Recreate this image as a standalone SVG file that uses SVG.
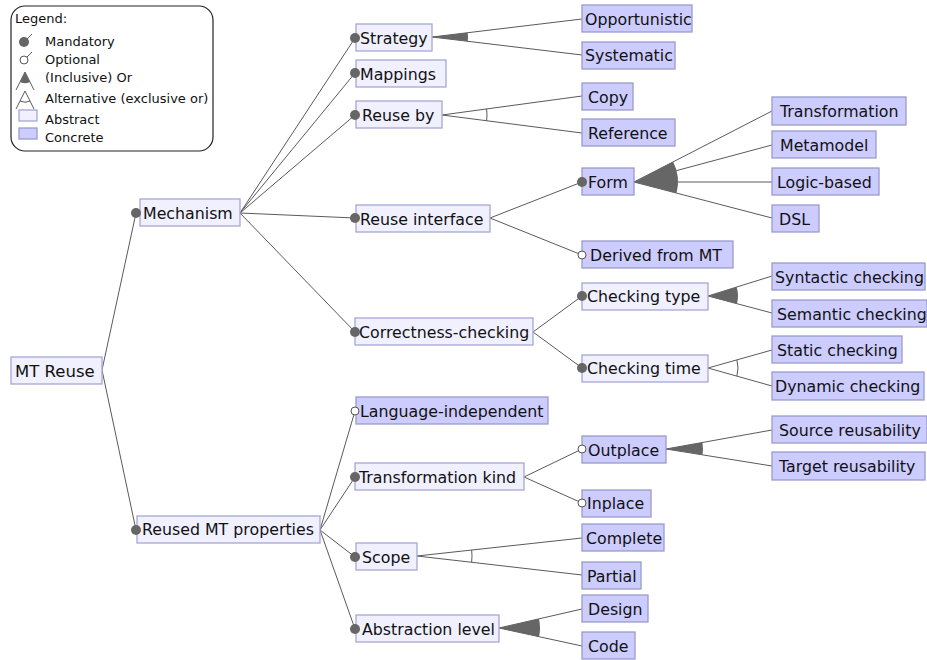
<svg xmlns="http://www.w3.org/2000/svg" width="927" height="660" viewBox="0 0 927 660">
<style>
text{font-family:"DejaVu Sans",Verdana,sans-serif;font-size:15.8px;fill:#111}
.lg{font-size:13px}
.abs{fill:#f0f0ff;stroke:#a6a6d6;stroke-width:1.3}
.con{fill:#ccccff;stroke:#9a9acc;stroke-width:1.3}
.e{stroke:#5a5a5a;stroke-width:1;fill:none}
.m{fill:#666;stroke:none}
.o{fill:#fff;stroke:#555;stroke-width:1}
.w{fill:#666;stroke:none}
.arc{fill:none;stroke:#5a5a5a;stroke-width:1}
</style>
<rect width="927" height="660" fill="#fff"/>
<g id="legend">
<rect x="11" y="6" width="202" height="145" rx="14" fill="#fff" stroke="#222" stroke-width="1.2"/>
<text class="lg" x="15" y="23">Legend:</text>
<line class="e" x1="24" y1="42" x2="32" y2="34"/><circle class="m" cx="24" cy="42" r="5"/>
<text class="lg" x="45" y="46">Mandatory</text>
<line class="e" x1="24" y1="60" x2="32" y2="52"/><circle class="o" cx="24" cy="60" r="4"/>
<text class="lg" x="45" y="64">Optional</text>
<path class="e" d="M16 90 L25 72 L34 90"/><path class="w" d="M25 72 L20 82 A11 11 0 0 0 30 82 Z"/>
<text class="lg" x="45" y="82">(Inclusive) Or</text>
<path class="e" d="M16 109 L25 91 L34 109"/><path class="arc" d="M20 101 A11 11 0 0 0 30 101"/>
<text class="lg" x="45" y="103">Alternative (exclusive or)</text>
<rect class="abs" x="19" y="110" width="18" height="11"/>
<text class="lg" x="45" y="124">Abstract</text>
<rect class="con" x="19" y="128" width="18" height="11"/>
<text class="lg" x="45" y="142">Concrete</text>
</g>
<g id="connectors">
<line class="e" x1="102" y1="370" x2="136" y2="213"/>
<line class="e" x1="102" y1="370" x2="136" y2="530"/>
<line class="e" x1="240" y1="213" x2="355" y2="38"/>
<line class="e" x1="240" y1="213" x2="355" y2="73"/>
<line class="e" x1="240" y1="213" x2="355" y2="115"/>
<line class="e" x1="240" y1="213" x2="355" y2="218"/>
<line class="e" x1="240" y1="213" x2="355" y2="332"/>
<line class="e" x1="320" y1="530" x2="355" y2="411"/>
<line class="e" x1="320" y1="530" x2="355" y2="477"/>
<line class="e" x1="320" y1="530" x2="355" y2="557"/>
<line class="e" x1="320" y1="530" x2="355" y2="629"/>
<line class="e" x1="490" y1="218" x2="582" y2="182"/>
<line class="e" x1="490" y1="218" x2="582" y2="255"/>
<line class="e" x1="533" y1="332" x2="582" y2="296"/>
<line class="e" x1="533" y1="332" x2="582" y2="368"/>
<line class="e" x1="524" y1="477" x2="582" y2="449"/>
<line class="e" x1="524" y1="477" x2="582" y2="503"/>
<line class="e" x1="432" y1="37" x2="582" y2="19"/>
<line class="e" x1="432" y1="37" x2="582" y2="55"/>
<path class="w" d="M432 37 L467.74 32.71 A36 36 0 0 1 467.74 41.29 Z"/>
<line class="e" x1="442" y1="115" x2="582" y2="96"/>
<line class="e" x1="442" y1="115" x2="582" y2="133"/>
<path class="arc" d="M486.59 108.95 A45 45 0 0 1 486.63 120.74"/>
<line class="e" x1="634" y1="182" x2="772" y2="111"/>
<line class="e" x1="634" y1="182" x2="772" y2="145"/>
<line class="e" x1="634" y1="182" x2="772" y2="182"/>
<line class="e" x1="634" y1="182" x2="772" y2="218"/>
<path class="w" d="M634 182 L673.13 161.87 A44 44 0 0 1 676.57 193.11 Z"/>
<line class="e" x1="708" y1="296" x2="772" y2="276"/>
<line class="e" x1="708" y1="296" x2="772" y2="313"/>
<path class="w" d="M708 296 L736.64 287.05 A30 30 0 0 1 736.99 303.7 Z"/>
<line class="e" x1="708" y1="368" x2="772" y2="350"/>
<line class="e" x1="708" y1="368" x2="772" y2="386"/>
<path class="arc" d="M736.88 359.88 A30 30 0 0 1 736.88 376.12"/>
<line class="e" x1="666" y1="449" x2="772" y2="430"/>
<line class="e" x1="666" y1="449" x2="772" y2="466"/>
<path class="w" d="M666 449 L702.42 442.47 A37 37 0 0 1 702.53 454.86 Z"/>
<line class="e" x1="417" y1="556" x2="582" y2="538"/>
<line class="e" x1="417" y1="556" x2="582" y2="575"/>
<path class="arc" d="M471.68 550.04 A55 55 0 0 1 471.64 562.29"/>
<line class="e" x1="499" y1="628" x2="582" y2="609"/>
<line class="e" x1="499" y1="628" x2="582" y2="646"/>
<path class="w" d="M499 628 L538.97 618.85 A41 41 0 0 1 539.11 636.69 Z"/>
</g>
<g id="n-mtreuse"><rect class="abs" x="11" y="357" width="91" height="27"/><text x="15" y="377" style="font-size:16.5px">MT Reuse</text></g>
<g id="n-mechanism"><rect class="abs" x="140" y="199" width="100" height="27"/><text x="143" y="219">Mechanism</text><circle class="m" cx="136" cy="213" r="5"/></g>
<g id="n-reused"><rect class="abs" x="137" y="516" width="183" height="27"/><text x="142" y="535">Reused MT properties</text><circle class="m" cx="136" cy="530" r="5"/></g>
<g id="n-strategy"><rect class="abs" x="356" y="24" width="76" height="27"/><text x="360" y="44">Strategy</text><circle class="m" cx="355" cy="38" r="5"/></g>
<g id="n-mappings"><rect class="abs" x="356" y="60" width="90" height="27"/><text x="360" y="80">Mappings</text><circle class="m" cx="355" cy="73" r="5"/></g>
<g id="n-reuseby"><rect class="abs" x="356" y="101" width="86" height="27"/><text x="362" y="121">Reuse by</text><circle class="m" cx="355" cy="115" r="5"/></g>
<g id="n-reuseinterface"><rect class="abs" x="356" y="205" width="134" height="27"/><text x="360" y="225">Reuse interface</text><circle class="m" cx="355" cy="218" r="5"/></g>
<g id="n-correctness"><rect class="abs" x="355" y="318" width="178" height="27"/><text x="359" y="338">Correctness-checking</text><circle class="m" cx="355" cy="332" r="5"/></g>
<g id="n-langindep"><rect class="con" x="356" y="397" width="192" height="27"/><text x="360" y="417">Language-independent</text><circle class="o" cx="355" cy="411" r="4"/></g>
<g id="n-transkind"><rect class="abs" x="355" y="463" width="169" height="27"/><text x="359" y="483">Transformation kind</text><circle class="m" cx="355" cy="477" r="5"/></g>
<g id="n-scope"><rect class="abs" x="356" y="543" width="61" height="27"/><text x="362" y="563">Scope</text><circle class="m" cx="355" cy="557" r="5"/></g>
<g id="n-abstraction"><rect class="abs" x="356" y="615" width="143" height="27"/><text x="362" y="635">Abstraction level</text><circle class="m" cx="355" cy="629" r="5"/></g>
<g id="n-opportunistic"><rect class="con" x="582" y="5" width="110" height="27"/><text x="585" y="25">Opportunistic</text></g>
<g id="n-systematic"><rect class="con" x="582" y="42" width="93" height="27"/><text x="585" y="61">Systematic</text></g>
<g id="n-copy"><rect class="con" x="582" y="83" width="51" height="27"/><text x="588" y="103">Copy</text></g>
<g id="n-reference"><rect class="con" x="582" y="119" width="93" height="27"/><text x="588" y="139">Reference</text></g>
<g id="n-form"><rect class="con" x="582" y="168" width="52" height="27"/><text x="588" y="188">Form</text><circle class="m" cx="582" cy="182" r="5"/></g>
<g id="n-derived"><rect class="con" x="582" y="241" width="151" height="27"/><text x="590" y="261">Derived from MT</text><circle class="o" cx="582" cy="255" r="4"/></g>
<g id="n-checktype"><rect class="abs" x="582" y="283" width="126" height="27"/><text x="587" y="302">Checking type</text><circle class="m" cx="582" cy="296" r="5"/></g>
<g id="n-checktime"><rect class="abs" x="582" y="355" width="126" height="27"/><text x="587" y="374">Checking time</text><circle class="m" cx="582" cy="368" r="5"/></g>
<g id="n-outplace"><rect class="con" x="582" y="436" width="84" height="27"/><text x="588" y="456">Outplace</text><circle class="o" cx="582" cy="449" r="4"/></g>
<g id="n-inplace"><rect class="con" x="582" y="490" width="69" height="27"/><text x="587" y="509">Inplace</text><circle class="o" cx="582" cy="503" r="4"/></g>
<g id="n-complete"><rect class="con" x="582" y="524" width="82" height="27"/><text x="586" y="544">Complete</text></g>
<g id="n-partial"><rect class="con" x="582" y="562" width="59" height="27"/><text x="587" y="582">Partial</text></g>
<g id="n-design"><rect class="con" x="582" y="595" width="66" height="27"/><text x="588" y="615">Design</text></g>
<g id="n-code"><rect class="con" x="582" y="632" width="53" height="27"/><text x="588" y="652">Code</text></g>
<g id="n-transformation"><rect class="con" x="772" y="97" width="134" height="28"/><text x="780" y="117">Transformation</text></g>
<g id="n-metamodel"><rect class="con" x="772" y="131" width="104" height="27"/><text x="780" y="151">Metamodel</text></g>
<g id="n-logic"><rect class="con" x="772" y="168" width="107" height="27"/><text x="777" y="188">Logic-based</text></g>
<g id="n-dsl"><rect class="con" x="772" y="205" width="47" height="27"/><text x="779" y="225">DSL</text></g>
<g id="n-syntactic"><rect class="con" x="772" y="263" width="153" height="27"/><text x="775" y="283">Syntactic checking</text></g>
<g id="n-semantic"><rect class="con" x="772" y="300" width="155" height="27"/><text x="777" y="320">Semantic checking</text></g>
<g id="n-static"><rect class="con" x="772" y="336" width="130" height="27"/><text x="777" y="356">Static checking</text></g>
<g id="n-dynamic"><rect class="con" x="772" y="372" width="152" height="28"/><text x="775" y="392">Dynamic checking</text></g>
<g id="n-source"><rect class="con" x="772" y="416" width="155" height="27"/><text x="779" y="436">Source reusability</text></g>
<g id="n-target"><rect class="con" x="772" y="452" width="153" height="28"/><text x="779" y="472">Target reusability</text></g>
</svg>
